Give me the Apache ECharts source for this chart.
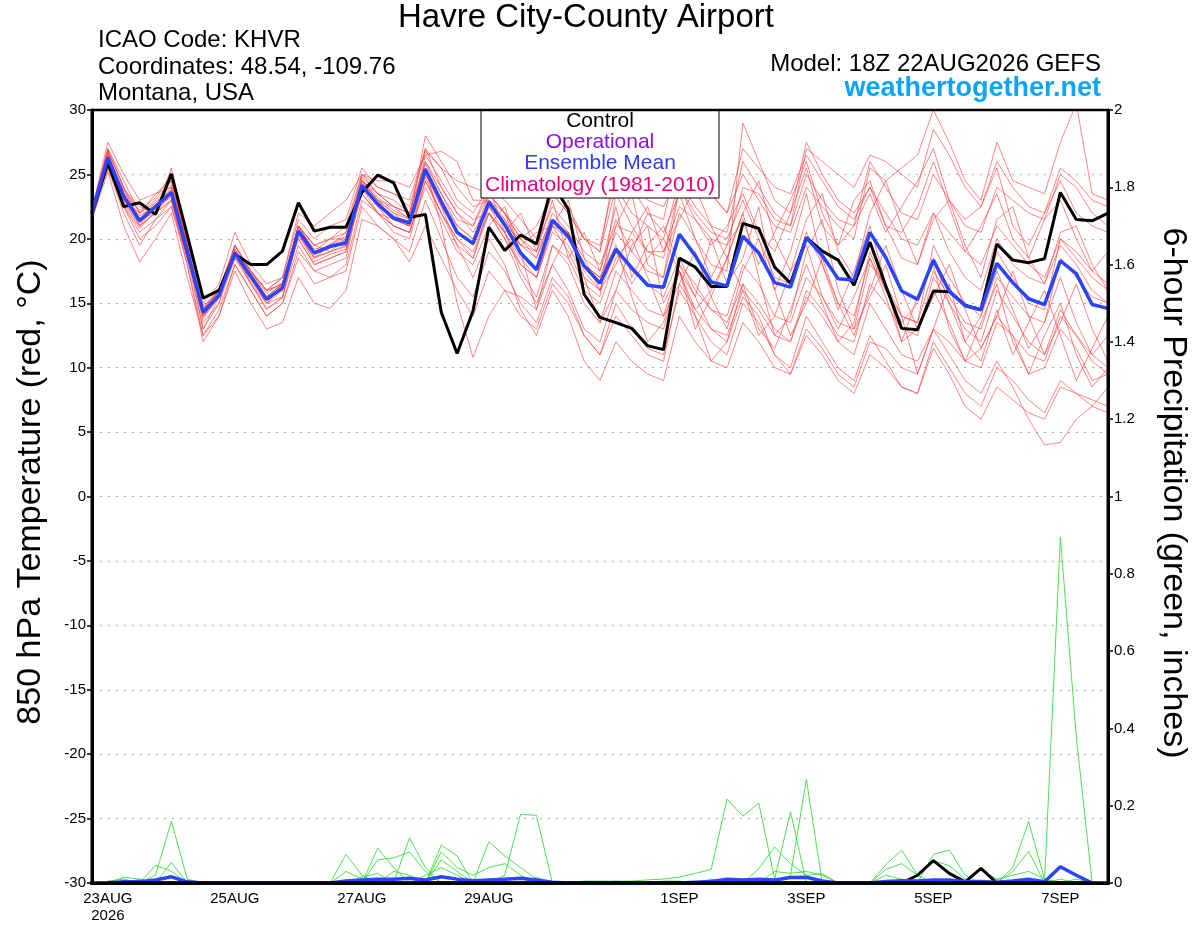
<!DOCTYPE html>
<html><head><meta charset="utf-8">
<script src="https://cdn.jsdelivr.net/npm/echarts@6/dist/echarts.min.js"></script>
<style>html,body{margin:0;padding:0;background:#fff}#c{width:1200px;height:927px}</style>
</head><body><div id="c"></div>
<script>
// ---- time axis: 6-hourly from 22AUG2026 18Z to 07SEP2026 18Z (65 steps)
const startUTC = Date.UTC(2026, 7, 22, 18);
const stepHours = 6;
const nSteps = 65;
const tickIndex = [1, 9, 17, 25, 37, 45, 53, 61];
const tickLabels = ['23AUG\n2026', '25AUG', '27AUG', '29AUG', '1SEP', '3SEP', '5SEP', '7SEP'];
const categories = [];
for (let i = 0; i < nSteps; i++) {
  const d = new Date(startUTC + i * stepHours * 3600000);
  categories.push(d.toISOString().slice(0, 13) + 'Z');
}

// ---- 850 hPa temperature (°C)
const controlTemp = [21.9,25.9,22.5,22.8,21.9,25.05,20.3,15.4,16.0,18.8,18.0,18.0,19.05,
 22.8,20.6,20.9,20.9,23.6,24.95,24.35,21.65,21.9,14.3,11.1,14.4,20.9,
 19.1,20.3,19.6,24.3,22.3,15.7,13.9,13.5,13.05,11.7,11.4,18.5,17.8,
 16.3,16.3,21.2,20.8,17.8,16.55,20.1,19.05,18.35,16.4,19.75,16.35,13.05,
 12.95,15.95,15.9,14.85,14.5,19.6,18.35,18.15,18.45,23.6,21.5,21.4,22.0];

const meanTemp = [22.0,26.3,23.3,21.4,22.5,23.6,19.0,14.3,15.6,18.9,17.1,15.3,16.2,
 20.6,18.9,19.4,19.7,24.15,22.7,21.6,21.25,25.4,22.9,20.5,19.65,22.85,
 21.1,18.9,17.6,21.45,20.2,17.9,16.55,19.2,17.75,16.4,16.25,20.35,18.7,
 16.65,16.35,20.2,18.9,16.6,16.25,20.1,18.7,16.9,16.8,20.5,18.55,15.95,
 15.3,18.35,15.95,14.8,14.5,18.1,16.6,15.35,14.9,18.3,17.3,14.9,14.6];

const memberTemps = [
 [22.2,27.0,24.5,22.0,23.0,24.5,19.5,13.5,15.0,19.5,17.5,16.0,17.0,21.5,20.0,21.0,21.5,
  25.5,24.0,23.5,22.5,26.8,25.5,23.0,22.0,24.0,23.0,21.5,20.0,23.5,22.0,20.0,19.0,
  24.0,22.0,21.0,20.0,24.5,22.5,21.0,20.5,26.0,24.0,22.0,21.0,25.0,23.0,21.5,21.0,
  26.0,24.0,22.0,21.5,25.0,23.0,21.0,20.5,24.0,23.0,22.0,21.5,25.0,24.0,22.0,21.0],
 [21.8,25.5,22.0,19.5,21.5,22.5,18.0,12.5,14.5,18.0,16.0,14.0,15.0,18.5,16.5,17.0,17.5,
  22.5,21.0,20.0,19.0,23.0,20.0,17.0,15.5,19.0,17.5,15.0,13.5,17.0,15.5,12.5,11.0,
  15.0,13.0,11.5,11.0,16.0,14.0,12.0,11.0,15.0,13.5,11.0,10.0,14.0,12.0,10.0,9.0,
  12.5,10.5,8.5,8.0,12.0,10.0,8.0,7.0,10.0,9.0,7.5,6.5,9.0,8.0,7.0,6.5],
 [22.0,26.5,23.5,21.0,22.0,25.5,20.0,14.0,15.5,19.0,17.0,15.5,16.5,21.0,19.5,19.0,20.0,
  24.5,23.0,22.0,21.5,28.0,26.0,24.0,22.5,23.0,22.0,20.0,18.5,22.0,20.5,18.0,17.0,
  20.5,19.0,17.5,17.0,22.0,20.0,18.0,17.5,29.0,26.0,23.0,22.0,27.5,25.0,23.0,22.0,
  24.0,21.0,18.5,18.0,22.0,19.0,17.0,16.0,20.0,18.0,17.0,16.5,19.5,18.0,16.0,15.0],
 [21.6,26.0,22.5,20.5,21.5,23.0,18.5,14.5,16.0,19.5,17.5,16.0,17.0,20.0,18.0,18.5,19.0,
  23.5,22.0,21.0,20.5,24.0,21.5,19.0,18.0,21.0,22.5,19.0,14.5,18.0,20.5,17.0,13.5,
  16.0,19.5,21.0,15.0,17.5,13.0,15.5,18.5,22.0,17.0,12.5,14.0,19.0,21.5,16.0,13.0,
  15.5,18.0,14.0,9.5,13.0,16.5,12.0,10.5,14.5,11.0,13.5,16.0,12.5,9.0,11.5,14.0],
 [22.3,27.5,25.0,23.0,23.5,24.0,19.0,13.0,15.0,18.5,16.5,15.0,15.5,20.5,18.5,19.5,20.5,
  25.0,23.5,22.5,22.0,27.0,24.0,22.0,20.5,22.5,21.5,19.5,19.0,24.0,22.5,20.0,19.5,
  25.0,24.0,22.0,21.5,27.0,25.0,23.5,22.0,25.0,23.0,21.0,20.5,24.0,22.5,21.0,20.0,
  25.5,24.5,25.5,26.5,30.0,27.5,24.5,23.0,27.5,24.5,24.0,23.5,27.5,30.5,23.5,23.0],
 [22.0,26.8,23.0,22.0,23.5,24.5,19.5,14.0,15.5,19.0,16.5,14.5,15.5,19.5,17.5,18.0,18.5,
  24.0,22.5,21.0,20.5,25.0,22.5,19.5,17.0,20.0,18.0,14.5,12.5,16.0,14.0,10.5,9.0,
  12.0,10.5,9.5,9.0,14.0,12.0,10.5,10.0,13.5,12.0,10.0,9.5,13.0,11.5,9.5,8.5,
  12.0,11.5,10.0,9.5,13.0,12.0,10.5,10.0,13.5,12.5,11.0,10.5,14.0,12.5,11.0,10.0],
 [21.7,25.8,22.8,21.0,22.5,23.5,18.5,13.0,15.5,19.0,17.0,15.0,16.5,21.0,19.0,19.5,20.0,
  24.5,23.5,23.0,22.0,26.0,23.5,21.5,21.0,24.0,20.5,22.0,19.0,23.0,18.5,20.5,17.5,
  22.5,17.0,19.5,21.0,18.0,15.5,20.0,16.5,18.5,22.5,16.0,19.0,23.5,18.0,14.5,17.5,
  21.0,16.5,12.0,15.5,18.0,13.0,10.5,13.5,16.5,12.0,9.5,12.5,15.0,11.0,8.5,10.0],
 [22.1,26.2,23.8,22.5,22.0,23.0,18.0,12.0,14.0,18.0,16.0,14.0,15.0,19.0,17.5,17.0,18.0,
  23.0,22.0,21.5,21.0,26.5,24.5,22.5,21.5,22.0,20.0,18.0,17.0,21.0,19.0,16.5,15.5,
  23.5,21.0,19.0,18.5,24.0,22.0,20.5,20.0,23.0,20.0,17.0,16.5,20.5,18.0,15.0,14.0,
  18.5,16.0,14.0,13.5,19.5,17.0,15.0,14.0,19.0,17.0,15.0,14.5,20.0,18.5,17.0,16.0],
 [21.9,26.5,23.5,21.5,22.5,24.0,19.0,14.5,15.8,18.5,17.0,15.5,16.0,20.5,18.5,19.0,19.5,
  24.0,22.0,20.5,20.0,24.5,22.0,20.0,19.0,22.0,20.5,18.5,17.0,20.5,19.5,17.0,16.0,
  19.0,17.5,16.5,15.5,18.5,16.0,14.5,13.5,16.5,15.0,13.0,12.0,15.5,14.0,12.0,11.0,
  15.0,13.0,11.0,10.5,13.0,11.0,9.0,8.0,10.5,8.5,6.0,4.0,4.2,6.0,7.0,8.5],
 [22.4,27.0,24.0,21.5,22.5,23.8,19.5,14.0,16.0,19.5,17.5,16.0,16.5,21.0,19.0,20.0,20.0,
  24.5,23.0,22.0,21.0,25.5,23.0,20.5,19.5,23.0,21.5,19.5,20.5,21.0,23.0,18.5,16.0,
  21.0,23.5,18.0,17.0,24.0,21.5,19.5,21.0,23.5,20.5,19.0,22.0,25.5,21.0,19.5,23.0,
  24.5,21.0,20.5,22.5,26.0,22.5,19.0,21.0,23.5,20.0,18.5,21.5,23.0,20.0,17.5,19.0],
 [21.8,26.0,23.0,21.5,22.0,23.5,19.0,15.0,16.5,20.5,18.0,16.5,17.0,22.0,21.0,22.0,23.0,
  25.0,24.0,23.5,23.0,27.0,25.5,24.5,24.0,23.5,22.0,20.5,19.5,22.5,21.0,19.0,18.0,
  21.0,20.5,19.0,19.0,22.5,21.5,20.0,19.5,24.0,23.5,21.5,21.0,27.0,26.0,25.0,24.0,
  26.5,26.0,25.0,24.0,28.5,26.5,24.0,22.5,26.0,24.0,22.5,22.0,25.5,24.5,23.0,22.5],
 [21.5,25.2,21.0,18.2,20.0,22.0,17.0,12.5,14.0,17.5,15.0,13.0,13.5,17.0,15.0,14.6,16.0,
  21.5,21.0,20.0,18.2,21.0,18.5,16.0,14.0,17.5,16.0,14.0,13.0,16.5,15.0,12.5,11.0,
  14.0,12.5,11.0,10.5,16.5,14.5,13.0,12.5,16.0,14.5,12.5,12.0,16.0,14.5,12.5,12.0,
  16.5,15.0,13.0,12.5,17.0,15.0,13.0,12.0,16.0,14.0,12.0,11.0,14.5,12.5,10.5,9.5],
 [22.2,26.8,24.0,22.0,22.8,24.2,19.5,13.8,15.5,19.0,17.0,15.5,16.0,20.0,18.0,18.5,19.0,
  24.0,22.5,21.5,21.0,25.0,23.0,21.0,20.0,23.5,22.0,20.0,19.0,21.5,20.5,18.0,17.0,
  19.5,15.5,12.0,13.5,17.5,14.0,10.5,12.0,16.5,13.0,11.5,14.5,18.0,15.0,12.0,13.5,
  19.0,16.0,13.5,15.0,18.5,15.0,12.0,14.0,17.5,14.5,11.5,13.5,17.0,13.5,11.0,12.5],
 [22.0,25.5,22.5,20.0,21.0,22.5,18.5,14.5,16.0,19.0,17.5,16.0,16.5,20.5,19.0,19.5,19.5,
  23.5,22.0,21.0,20.5,24.5,22.0,20.0,18.5,22.0,20.5,18.0,17.0,21.0,20.0,17.5,16.0,
  18.0,20.5,22.5,19.0,21.5,24.0,21.0,18.5,22.0,24.5,20.0,17.5,21.5,23.5,19.0,17.0,
  22.0,24.5,21.0,18.0,21.5,23.0,19.5,17.0,21.5,22.5,18.5,16.5,20.5,21.0,18.0,16.0],
 [22.0,26.0,23.0,21.0,22.0,23.0,18.5,14.5,16.0,19.0,17.0,15.5,16.5,21.0,19.5,20.0,21.0,
  25.0,24.5,24.5,24.0,26.5,26.8,26.0,23.0,23.0,21.0,20.0,21.0,23.5,22.0,20.0,19.0,
  26.0,24.0,23.0,22.5,25.0,24.0,23.5,22.0,27.0,25.5,24.0,23.5,26.5,24.5,22.5,21.5,
  24.0,22.0,20.0,19.5,22.0,20.5,19.0,18.0,21.0,19.5,18.0,17.0,20.0,19.0,17.5,16.5],
 [21.9,26.3,23.2,21.8,22.6,23.2,18.8,14.2,15.4,18.6,16.8,15.0,16.0,20.2,18.6,19.0,19.4,
  24.2,23.0,21.5,21.0,24.8,22.0,19.5,18.5,22.5,20.5,17.5,15.5,19.5,18.5,16.0,15.0,
  18.5,20.0,17.0,14.0,16.5,19.0,15.5,13.0,17.5,20.0,16.0,12.5,15.0,18.5,15.0,12.5,
  16.0,19.5,16.0,13.0,15.5,18.0,14.5,11.5,14.0,17.5,14.0,11.0,13.5,16.5,13.0,10.5],
 [22.1,26.6,23.6,22.2,23.2,25.0,19.5,14.0,15.5,19.5,17.5,15.5,16.5,21.0,19.5,20.0,20.5,
  24.5,23.0,22.5,21.5,25.5,21.0,15.0,10.8,14.0,16.0,15.5,14.5,19.5,18.0,15.0,13.5,
  17.5,16.0,14.5,14.0,18.0,16.5,14.5,14.0,18.0,16.5,14.0,13.5,17.0,15.5,13.5,13.0,
  18.0,16.5,14.0,13.5,17.5,15.5,13.5,13.0,17.0,15.5,14.0,13.5,18.5,17.0,15.5,15.0],
 [21.7,25.8,22.6,20.8,22.2,23.4,19.2,14.6,16.2,19.2,17.4,15.8,16.6,20.8,19.2,19.4,19.8,
  24.8,23.5,22.5,22.0,26.0,24.0,22.0,21.0,23.5,22.0,19.0,17.5,21.0,20.5,18.5,17.5,
  21.5,19.0,22.0,20.5,23.5,20.0,17.0,19.5,21.5,18.0,20.5,23.0,26.0,22.0,19.5,21.0,
  23.5,20.5,22.5,24.5,27.0,23.0,21.5,22.5,25.5,21.0,19.5,22.0,24.5,22.0,21.0,20.5],
 [22.3,26.9,23.9,21.2,22.4,24.6,19.8,14.8,15.8,18.8,16.6,14.6,15.4,20.4,18.2,18.8,19.2,
  24.3,22.8,21.8,21.2,25.2,22.5,20.5,19.5,22.0,20.0,17.0,15.0,18.0,16.0,13.0,12.0,
  16.0,14.5,13.5,13.0,17.5,15.5,13.0,12.0,15.5,14.0,11.0,9.5,12.5,11.0,9.0,8.0,
  11.0,10.0,8.5,8.0,11.5,9.5,7.0,6.0,8.5,7.5,6.5,6.0,8.5,8.0,7.5,7.0],
 [22.0,26.2,23.4,21.6,22.8,23.8,19.2,14.4,15.6,19.2,17.2,15.4,16.2,20.6,18.8,19.6,20.2,
  24.6,23.2,22.2,21.6,25.8,23.5,21.0,20.0,22.5,21.0,19.5,18.5,21.5,20.0,18.0,17.0,
  19.0,16.5,18.5,20.0,17.5,14.5,16.0,18.5,16.0,12.5,14.0,17.5,19.5,15.5,13.0,15.5,
  18.5,15.5,12.0,13.0,16.0,13.5,10.5,11.5,14.0,12.5,9.5,10.0,13.0,11.5,9.0,9.5]
];

// ---- 6-hour precipitation (inches)
const controlPrecip = [null,0,0,0,0,0,0,0,0,0,0,0,0,
 0,0,0,0,0,0,0,0,0,0,0,0,0,
 0,0,0,0,0,0,0,0,0,0,0,0,0,
 0,0,0,0,0,0,0,0,0,0,0,0,0,
 0.02,0.058,0.025,0.003,0.038,0,0,0,0,0,0,0,null];

const meanPrecip = [null,0,0.003,0.003,0.008,0.016,0.003,0,0,0,0,0,0,
 0,0,0,0.005,0.008,0.01,0.01,0.012,0.008,0.016,0.01,0.006,0.008,
 0.01,0.012,0.008,0.002,0,0,0,0,0,0,0,0,0.002,
 0.004,0.01,0.008,0.01,0.008,0.014,0.015,0.005,0,0,0,0.004,0.006,
 0.005,0.008,0.008,0.003,0.004,0.002,0.005,0.01,0.003,0.042,0.02,0,null];

const memberPrecip = [
 [null,0,0,0,0.02,0.16,0.01,0,0,0,0,0,0,
  0,0,0,0,0,0,0,0,0,0,0,0,0,
  0.02,0.178,0.175,0,0,0,0,0,0,0,0,0,0,
  0,0,0,0,0.01,0.184,0,0,0,0,0,0,0,
  0,0,0,0,0,0,0,0,0,0.895,0.38,0,null],
 [null,0,0,0,0.046,0.03,0,0,0,0,0,0,0,
  0,0,0,0,0,0.09,0.04,0,0,0.098,0.07,0,0,
  0,0,0,0,0,0,0,0.005,0.005,0.008,0.01,0.015,0.025,
  0.035,0.217,0.173,0.207,0.01,0,0,0,0,0,0,0,0,
  0,0,0,0,0,0,0.04,0.159,0.01,0,0,0,null],
 [null,0,0,0.01,0,0.053,0,0,0,0,0,0,0,
  0,0,0,0.074,0.02,0,0,0.117,0.04,0,0,0,0.107,
  0.07,0.04,0.01,0,0,0,0,0,0,0,0,0,0,
  0,0,0,0,0,0.02,0.268,0,0,0,0,0.047,0.085,
  0.02,0,0,0,0,0,0,0,0,0,0,0,null],
 [null,0,0.015,0.01,0,0,0,0,0,0,0,0,0,
  0,0,0,0,0,0.06,0.065,0.08,0.03,0,0,0,0,
  0,0,0,0,0,0,0,0,0,0,0,0,0,
  0,0,0,0.037,0.093,0.05,0.02,0.024,0,0,0,0,0,
  0,0.074,0.085,0.02,0,0,0.03,0.082,0,0,0,0,null],
 [null,0,0,0,0,0,0,0,0,0,0,0,0,
  0,0,0,0.03,0.01,0,0,0,0,0.08,0.04,0.02,0.04,
  0.05,0.02,0,0,0,0,0,0,0,0,0,0,0,
  0,0,0,0,0.03,0.025,0.03,0.02,0,0,0,0.035,0.05,
  0.02,0.058,0.045,0.01,0,0,0,0,0,0,0.01,0,null],
 [null,0.005,0.01,0,0,0,0,0,0,0,0,0,0,
  0,0,0,0,0,0,0.03,0.02,0,0.06,0.03,0,0,
  0,0,0.015,0,0,0,0,0,0,0,0,0,0,
  0,0,0,0,0,0,0,0,0,0,0,0,0,
  0,0,0,0,0.035,0.01,0,0,0,0.01,0,0,null],
 [null,0,0,0,0,0,0,0,0,0,0,0,0,
  0,0,0,0,0,0,0,0,0.02,0.04,0.02,0,0,
  0,0,0,0,0,0.005,0.005,0.005,0,0,0,0,0,
  0.01,0,0,0,0,0,0,0,0,0,0,0.02,0.01,
  0,0,0,0,0,0,0,0,0,0,0,0,null],
 [null,0,0,0,0,0,0,0,0,0,0,0,0,
  0,0,0,0,0.015,0.025,0,0,0,0,0,0,0,
  0,0,0,0,0,0,0,0,0,0,0.005,0.005,0,
  0,0,0,0,0,0,0,0,0,0,0,0,0,
  0,0,0,0,0,0.01,0.02,0.03,0.01,0,0,0,null]
];

// ---- texts
const titleText = 'Havre City-County Airport';
const infoLeft = ['ICAO Code: KHVR', 'Coordinates: 48.54, -109.76', 'Montana, USA'];
const modelText = 'Model: 18Z 22AUG2026 GEFS';
const siteText = 'weathertogether.net';
const legendItems = ['Control', 'Operational', 'Ensemble Mean', 'Climatology (1981-2010)'];
const legendColors = ['#000000', '#8a10e0', '#2a3cff', '#e6007e'];
const leftAxisName = '850 hPa Temperature (red, \u00B0C)';
const rightAxisName = '6-hour Precipitation (green, inches)';

const FONT = '"Liberation Sans", Arial, Helvetica, sans-serif';
const chart = echarts.init(document.getElementById('c'), null, {renderer: 'canvas'});

const series = [];
memberTemps.forEach(function (arr) {
  series.push({type: 'line', data: arr, yAxisIndex: 0, symbol: 'none', silent: true, z: 2,
    lineStyle: {color: '#ff4040', width: 0.8, opacity: 0.8}});
});
memberPrecip.forEach(function (arr) {
  series.push({type: 'line', data: arr, yAxisIndex: 1, symbol: 'none', silent: true, z: 2,
    lineStyle: {color: '#30dd30', width: 0.9, opacity: 0.95}});
});
series.push({type: 'line', data: controlTemp, yAxisIndex: 0, symbol: 'none', z: 4,
  lineStyle: {color: '#000', width: 3}});
series.push({type: 'line', data: controlPrecip, yAxisIndex: 1, symbol: 'none', z: 4,
  lineStyle: {color: '#000', width: 3}});
series.push({type: 'line', data: meanTemp, yAxisIndex: 0, symbol: 'none', z: 5,
  lineStyle: {color: '#2a45ff', width: 3.5}});
series.push({type: 'line', data: meanPrecip, yAxisIndex: 1, symbol: 'none', z: 5,
  lineStyle: {color: '#2a45ff', width: 3.5}});

function txt(x, y, text, font, fill, align, extra) {
  const o = {type: 'text', x: x, y: y, z: 102,
    style: {text: text, font: font, fill: fill, textAlign: align, textVerticalAlign: 'middle'}};
  if (extra) Object.assign(o, extra);
  return o;
}
const graphics = [
  txt(586, 18, titleText, '33px ' + FONT, '#000', 'center'),
  txt(98, 40, infoLeft[0], '24px ' + FONT, '#000', 'left'),
  txt(98, 67, infoLeft[1], '24px ' + FONT, '#000', 'left'),
  txt(98, 93, infoLeft[2], '24px ' + FONT, '#000', 'left'),
  txt(1101, 64, modelText, '24px ' + FONT, '#000', 'right'),
  txt(1101, 89, siteText, 'bold 27px ' + FONT, '#0aa5f5', 'right'),
  txt(31, 492, leftAxisName, '34px ' + FONT, '#000', 'center', {rotation: Math.PI / 2}),
  txt(1173, 493, rightAxisName, '34px ' + FONT, '#000', 'center', {rotation: -Math.PI / 2}),
  {type: 'rect', z: 100, shape: {x: 481, y: 110, width: 238, height: 88}, style: {fill: '#fff', stroke: '#000', lineWidth: 1}},
  {type: 'line', z: 101, shape: {x1: 90, y1: 883, x2: 1110, y2: 883}, style: {stroke: '#000', lineWidth: 3.5}},
  {type: 'line', z: 101, shape: {x1: 92, y1: 109, x2: 92, y2: 885}, style: {stroke: '#000', lineWidth: 3}},
  {type: 'line', z: 101, shape: {x1: 1108, y1: 109, x2: 1108, y2: 885}, style: {stroke: '#000', lineWidth: 3}},
  {type: 'line', z: 101, shape: {x1: 91, y1: 110, x2: 1109, y2: 110}, style: {stroke: '#000', lineWidth: 2.5}}
];
const legendY = [121, 142, 163, 185];
legendItems.forEach(function (t, k) {
  graphics.push(txt(600, legendY[k], t, '21px ' + FONT, legendColors[k], 'center'));
});

chart.setOption({
  animation: false,
  backgroundColor: '#fff',
  grid: {left: 92, right: 92, top: 110, bottom: 44, containLabel: false},
  xAxis: {
    type: 'category', data: categories, boundaryGap: false,
    axisLine: {show: true, onZero: false, lineStyle: {color: '#000', width: 3}},
    axisTick: {show: false},
    splitLine: {show: false},
    axisLabel: {
      interval: function (idx) { return tickIndex.indexOf(idx) >= 0; },
      formatter: function (v, idx) { const k = tickIndex.indexOf(idx); return k >= 0 ? tickLabels[k] : ''; },
      color: '#000', fontSize: 15, fontFamily: FONT, margin: 7, lineHeight: 17
    }
  },
  yAxis: [
    {type: 'value', min: -30, max: 30, interval: 5, position: 'left',
     axisLine: {show: true, lineStyle: {color: '#000', width: 3}},
     axisTick: {show: true, length: 5, lineStyle: {color: '#000', width: 1.5}},
     axisLabel: {color: '#000', fontSize: 15, fontFamily: FONT, margin: 6},
     splitLine: {show: true, lineStyle: {color: '#a8a8a8', width: 1, type: [2, 6]}}},
    {type: 'value', min: 0, max: 2, interval: 0.2, position: 'right',
     axisLine: {show: true, lineStyle: {color: '#000', width: 3}},
     axisTick: {show: true, length: 5, lineStyle: {color: '#000', width: 1.5}},
     axisLabel: {color: '#000', fontSize: 15, fontFamily: FONT, margin: 6,
       formatter: function (v) { return String(Number(v.toFixed(1))); }},
     splitLine: {show: false}}
  ],
  graphic: graphics,
  series: series
});
</script>
</body></html>
